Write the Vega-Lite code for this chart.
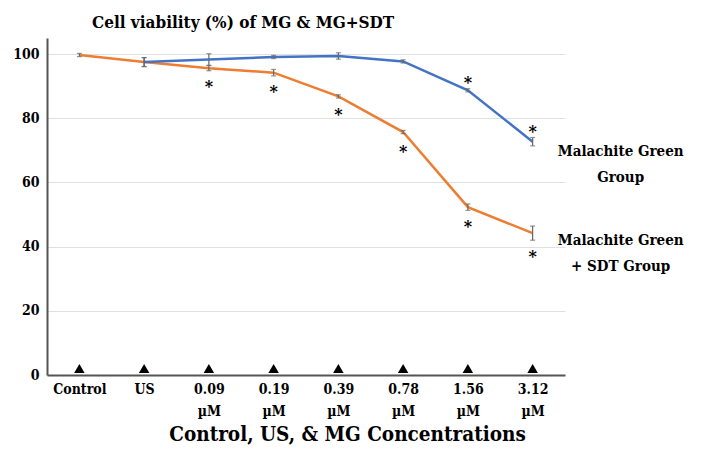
{
  "$schema": "https://vega.github.io/schema/vega-lite/v6.json",
  "width": 518,
  "height": 337,
  "autosize": "none",
  "padding": {"left": 47, "top": 38, "right": 136, "bottom": 75},
  "background": "white",
  "config": {
    "font": "'DejaVu Serif Condensed', 'DejaVu Serif', serif",
    "view": {"stroke": null}
  },
  "title": {
    "text": "Cell viability (%) of MG & MG+SDT",
    "anchor": "start",
    "frame": "group",
    "dx": 45,
    "fontSize": 17,
    "fontWeight": "bold",
    "font": "'DejaVu Serif Condensed', 'DejaVu Serif', serif",
    "color": "black",
    "offset": 6
  },
  "datasets": {
    "points": [
      {"group": "MG+SDT", "cat": "Control", "mean": 99.7, "err": 0.5, "star": null},
      {"group": "MG+SDT", "cat": "US", "mean": 97.5, "err": 1.4, "star": null},
      {"group": "MG+SDT", "cat": "0.09 µM", "mean": 95.6, "err": 0.8, "star": 90.9},
      {"group": "MG+SDT", "cat": "0.19 µM", "mean": 94.2, "err": 1.0, "star": 89.4},
      {"group": "MG+SDT", "cat": "0.39 µM", "mean": 86.8, "err": 0.5, "star": 82.3},
      {"group": "MG+SDT", "cat": "0.78 µM", "mean": 75.7, "err": 0.5, "star": 70.7},
      {"group": "MG+SDT", "cat": "1.56 µM", "mean": 52.3, "err": 1.0, "star": 47.5},
      {"group": "MG+SDT", "cat": "3.12 µM", "mean": 44.2, "err": 2.2, "star": 37.9},
      {"group": "MG", "cat": "US", "mean": 97.5, "err": 1.4, "star": null},
      {"group": "MG", "cat": "0.09 µM", "mean": 98.3, "err": 1.8, "star": null},
      {"group": "MG", "cat": "0.19 µM", "mean": 99.1, "err": 0.5, "star": null},
      {"group": "MG", "cat": "0.39 µM", "mean": 99.4, "err": 1.0, "star": null},
      {"group": "MG", "cat": "0.78 µM", "mean": 97.7, "err": 0.5, "star": null},
      {"group": "MG", "cat": "1.56 µM", "mean": 88.7, "err": 0.5, "star": 92.2},
      {"group": "MG", "cat": "3.12 µM", "mean": 72.7, "err": 1.3, "star": 76.9}
    ],
    "markers": [
      {"cat": "Control", "v": 2},
      {"cat": "US", "v": 2},
      {"cat": "0.09 µM", "v": 2},
      {"cat": "0.19 µM", "v": 2},
      {"cat": "0.39 µM", "v": 2},
      {"cat": "0.78 µM", "v": 2},
      {"cat": "1.56 µM", "v": 2},
      {"cat": "3.12 µM", "v": 2}
    ],
    "labels": [
      {"cat": "3.12 µM", "v": 69.7, "label": ["Malachite Green", "Group"]},
      {"cat": "3.12 µM", "v": 42.0, "label": ["Malachite Green", "+ SDT Group"]}
    ]
  },
  "encoding": {
    "x": {
      "field": "cat",
      "type": "nominal",
      "sort": ["Control", "US", "0.09 µM", "0.19 µM", "0.39 µM", "0.78 µM", "1.56 µM", "3.12 µM"],
      "scale": {"type": "point", "padding": 0.5,
        "domain": ["Control", "US", "0.09 µM", "0.19 µM", "0.39 µM", "0.78 µM", "1.56 µM", "3.12 µM"]},
      "axis": {
        "title": "Control, US, & MG Concentrations",
        "titleFont": "'DejaVu Serif Condensed', 'DejaVu Serif', serif",
        "titleFontSize": 20.5,
        "titleFontWeight": "bold",
        "titleColor": "black",
        "titleX": 300,
        "titlePadding": 6,
        "labelAngle": 0,
        "labelExpr": "split(datum.label, ' ')",
        "labelFont": "'DejaVu Serif Condensed', 'DejaVu Serif', serif",
        "labelFontSize": 14,
        "labelFontWeight": "bold",
        "labelColor": "black",
        "labelLineHeight": 22,
        "labelPadding": 7,
        "ticks": false,
        "grid": false,
        "domainColor": "#555555",
        "domainWidth": 2
      }
    }
  },
  "layer": [
    {
      "data": {"name": "points"},
      "mark": {"type": "line", "strokeWidth": 2.5},
      "encoding": {
        "y": {
          "field": "mean",
          "type": "quantitative",
          "scale": {"domain": [0, 105], "nice": false},
          "axis": {
            "title": null,
            "values": [0, 20, 40, 60, 80, 100],
            "labelFont": "'DejaVu Serif Condensed', 'DejaVu Serif', serif",
            "labelFontSize": 14,
            "labelFontWeight": "bold",
            "labelColor": "black",
            "labelPadding": 8,
            "ticks": false,
            "gridColor": "#e0e0e0",
            "gridWidth": 1,
            "domainColor": "#555555",
            "domainWidth": 2
          }
        },
        "color": {
          "field": "group",
          "type": "nominal",
          "scale": {"domain": ["MG", "MG+SDT"], "range": ["#4472C4", "#ED7D31"]},
          "legend": null
        }
      }
    },
    {
      "data": {"name": "points"},
      "transform": [
        {"calculate": "datum.mean - datum.err", "as": "lo"},
        {"calculate": "datum.mean + datum.err", "as": "hi"}
      ],
      "layer": [
        {
          "mark": {"type": "rule", "color": "#666666", "strokeWidth": 1.2},
          "encoding": {
            "y": {"field": "lo", "type": "quantitative"},
            "y2": {"field": "hi"}
          }
        },
        {
          "mark": {"type": "tick", "color": "#666666", "thickness": 1.2, "size": 5, "orient": "horizontal"},
          "encoding": {"y": {"field": "lo", "type": "quantitative"}}
        },
        {
          "mark": {"type": "tick", "color": "#666666", "thickness": 1.2, "size": 5, "orient": "horizontal"},
          "encoding": {"y": {"field": "hi", "type": "quantitative"}}
        }
      ]
    },
    {
      "data": {"name": "points"},
      "transform": [{"filter": "datum.star != null"}],
      "mark": {"type": "text", "text": "*", "font": "'DejaVu Serif', serif", "fontSize": 16, "fontWeight": "bold", "color": "black", "baseline": "middle", "dy": 4},
      "encoding": {
        "y": {"field": "star", "type": "quantitative"}
      }
    },
    {
      "data": {"name": "markers"},
      "mark": {"type": "point", "shape": "triangle-up", "filled": true, "color": "black", "size": 110, "opacity": 1},
      "encoding": {
        "y": {"field": "v", "type": "quantitative"}
      }
    },
    {
      "data": {"name": "labels"},
      "mark": {"type": "text", "font": "'DejaVu Serif Condensed', 'DejaVu Serif', serif", "fontSize": 15, "fontWeight": "bold", "color": "black", "align": "center", "baseline": "middle", "dx": 88, "lineHeight": 26},
      "encoding": {
        "y": {"field": "v", "type": "quantitative"},
        "text": {"field": "label"}
      }
    }
  ]
}
